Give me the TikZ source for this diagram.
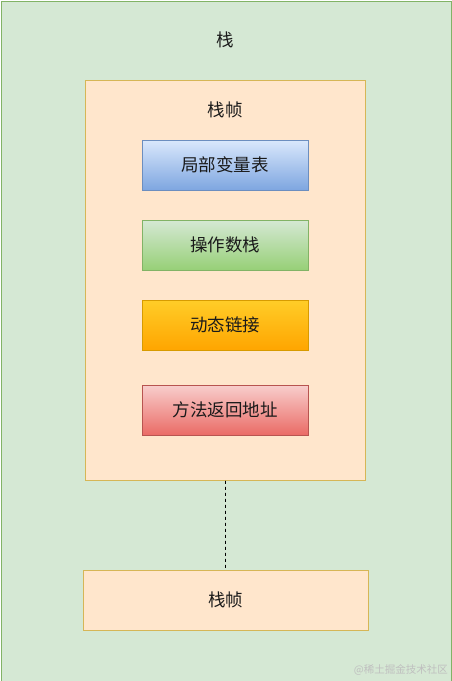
\documentclass[tikz,border=0pt]{standalone}
\usepackage{fontspec}
\setmainfont{Noto Sans CJK SC}
\definecolor{outerfill}{HTML}{D5E8D4}
\definecolor{outerdraw}{HTML}{82B366}
\definecolor{framefill}{HTML}{FFE6CC}
\definecolor{framedraw}{HTML}{D6B656}
\definecolor{blueA}{HTML}{DAE8FC}
\definecolor{blueB}{HTML}{7EA6E0}
\definecolor{blueD}{HTML}{6C8EBF}
\definecolor{greenA}{HTML}{D5E8D4}
\definecolor{greenB}{HTML}{97D077}
\definecolor{greenD}{HTML}{82B366}
\definecolor{orangeA}{HTML}{FFCD28}
\definecolor{orangeB}{HTML}{FFA500}
\definecolor{orangeD}{HTML}{D79B00}
\definecolor{redA}{HTML}{F8CECC}
\definecolor{redB}{HTML}{EA6B66}
\definecolor{redD}{HTML}{B85450}
\definecolor{txt}{HTML}{1A1A1A}
\tikzset{
  lbl/.style={font=\fontsize{17.5}{20}\selectfont, text=txt, inner sep=0pt},
  itembox/.style={minimum width=166pt, minimum height=50pt, line width=0.8pt, inner sep=0pt, font=\fontsize{17.5}{20}\selectfont, text=txt},
  framebox/.style={fill=framefill, draw=framedraw, line width=0.8pt, inner sep=0pt},
}
\begin{document}
\begin{tikzpicture}[x=1pt,y=-1pt]
\useasboundingbox (0,0) rectangle (451,681);
\node[draw=outerdraw, fill=outerfill, line width=1pt, minimum width=450pt, minimum height=680pt, inner sep=0pt, anchor=north west] (stack) at (0.5,0.5) {};
\node[lbl] (stacklbl) at (225,40) {栈};
\node[framebox, minimum width=280pt, minimum height=400pt, anchor=north west] (frame) at (85,80) {};
\node[lbl] (framelbl) at (225,110) {栈帧};
\node[itembox, draw=blueD, top color=blueA, bottom color=blueB] (lvt) at (225,165) {局部变量表};
\node[itembox, draw=greenD, top color=greenA, bottom color=greenB] (ops) at (225,245) {操作数栈};
\node[itembox, draw=orangeD, top color=orangeA, bottom color=orangeB] (dyn) at (225,325) {动态链接};
\node[itembox, draw=redD, top color=redA, bottom color=redB] (ret) at (225,410) {方法返回地址};
\node[framebox, minimum width=285pt, minimum height=60pt, font=\fontsize{17.5}{20}\selectfont, text=txt] (frame2) at (225.5,600) {栈帧};
\draw[dashed, line width=0.8pt, black] (frame.south) -- (frame2.north);
\node[font=\fontsize{10.5}{12}\selectfont, text=black!25, anchor=east, inner sep=0pt] (wm) at (448,670) {@稀土掘金技术社区};
\end{tikzpicture}
\end{document}
